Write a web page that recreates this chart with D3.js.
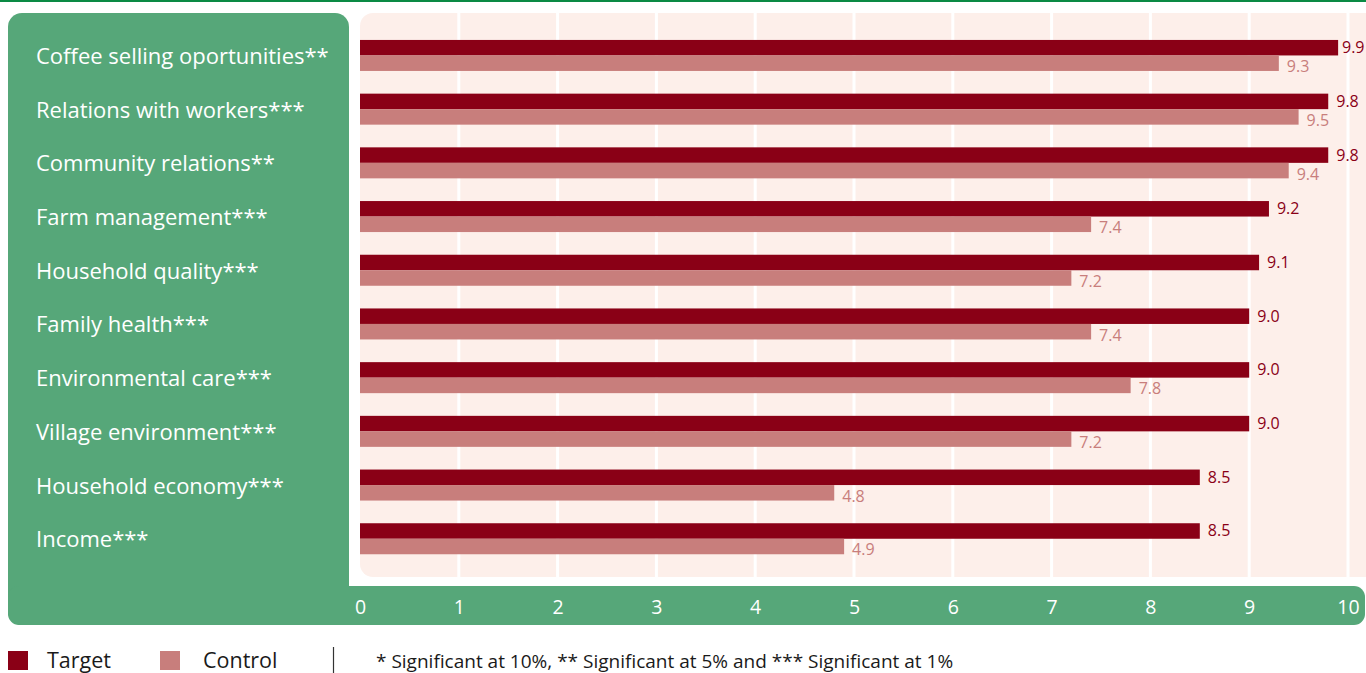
<!DOCTYPE html>
<html>
<head>
<meta charset="utf-8">
<script src="https://cdn.jsdelivr.net/npm/d3@7"></script>
<style>
  html, body { margin: 0; padding: 0; background: #ffffff; }
  svg { display: block; font-family: "Open Sans", "Noto Sans", sans-serif; }
</style>
</head>
<body>
<svg id="chart" width="1366" height="673"></svg>
<script>
// Indicator scores, Target vs Control
const categories = [
  "Coffee selling oportunities**",
  "Relations with workers***",
  "Community relations**",
  "Farm management***",
  "Household quality***",
  "Family health***",
  "Environmental care***",
  "Village environment***",
  "Household economy***",
  "Income***"
];
const targetValues  = [9.9, 9.8, 9.8, 9.2, 9.1, 9.0, 9.0, 9.0, 8.5, 8.5];
const controlValues = [9.3, 9.5, 9.4, 7.4, 7.2, 7.4, 7.8, 7.2, 4.8, 4.9];
const seriesNames = ["Target", "Control"];
const tickValues = [0, 1, 2, 3, 4, 5, 6, 7, 8, 9, 10];
const footnote = "* Significant at 10%, ** Significant at 5% and *** Significant at 1%";

const colors = { Target: "#8a0016", Control: "#c87e7c" };
const green = "#56a779";
const pink = "#fdefea";
const font = "'Open Sans', 'Noto Sans', sans-serif";

const svg = d3.select("#chart");

// top rule
svg.append("rect").attr("x", 0).attr("y", 0).attr("width", 1366).attr("height", 2).attr("fill", "#0a8a44");

// green label panel + axis strip
svg.append("rect").attr("x", 8).attr("y", 13).attr("width", 341).attr("height", 612).attr("rx", 14).attr("fill", green);
svg.append("rect").attr("x", 8).attr("y", 586).attr("width", 1357).attr("height", 39).attr("rx", 11).attr("fill", green);

// plot panel
svg.append("rect").attr("x", 360).attr("y", 13).attr("width", 1020).attr("height", 564).attr("rx", 13).attr("fill", pink);

const x = d3.scaleLinear().domain([0, 10]).range([360, 1348]);
const y = d3.scaleBand().domain(categories).range([28.6, 565.6]).padding(0);
const ySub = d3.scaleBand().domain(seriesNames).range([0, y.bandwidth()]).paddingInner(0).paddingOuter(0.732);

// white gridlines
svg.append("g").selectAll("line")
  .data(tickValues.filter(d => d > 0))
  .join("line")
  .attr("x1", d => x(d)).attr("x2", d => x(d))
  .attr("y1", 13).attr("y2", 577)
  .attr("stroke", "#ffffff").attr("stroke-width", 3);

const rows = categories.map((c, i) => ({ c, Target: targetValues[i], Control: controlValues[i] }));

const group = svg.append("g").selectAll("g")
  .data(rows)
  .join("g")
  .attr("transform", d => `translate(0,${y(d.c)})`);

seriesNames.forEach(s => {
  group.append("rect")
    .attr("x", x(0))
    .attr("y", ySub(s))
    .attr("width", d => x(d[s]) - x(0))
    .attr("height", ySub.bandwidth())
    .attr("fill", colors[s]);
  group.append("text")
    .attr("x", d => Math.min(x(d[s]) + 8, x(10) - 6))
    .attr("y", ySub(s) + ySub.bandwidth() / 2 + (s === "Control" ? 9 : 5.5))
    .attr("font-size", 16)
    .attr("fill", colors[s])
    .text(d => d[s].toFixed(1));
});

// category labels
svg.append("g").selectAll("text")
  .data(categories)
  .join("text")
  .attr("x", 36)
  .attr("y", d => y(d) + y.bandwidth() / 2 + 8.5)
  .attr("font-size", 22)
  .attr("fill", "#ffffff")
  .text(d => d);

// x axis
const axis = d3.axisBottom(x).tickValues(tickValues).tickSize(0).tickPadding(0).tickFormat(d3.format("d"));
const ax = svg.append("g").attr("transform", "translate(0,607)").call(axis);
ax.select(".domain").remove();
ax.selectAll("text")
  .attr("font-family", font)
  .attr("font-size", 19.5)
  .attr("fill", "#ffffff")
  .attr("dy", "0.36em")
  .attr("y", 0);

// legend
const legend = svg.append("g");
const legendPos = [{ s: "Target", x: 8, tx: 47 }, { s: "Control", x: 160, tx: 203 }];
legendPos.forEach(p => {
  legend.append("rect").attr("x", p.x).attr("y", 651).attr("width", 20).attr("height", 19).attr("fill", colors[p.s]);
  legend.append("text").attr("x", p.tx).attr("y", 667.5).attr("font-size", 21.5).attr("fill", "#1a1a1a").text(p.s);
});
legend.append("line").attr("x1", 333.5).attr("x2", 333.5).attr("y1", 647).attr("y2", 673).attr("stroke", "#333").attr("stroke-width", 1.2);
legend.append("text").attr("x", 376).attr("y", 667.5).attr("font-size", 19).attr("fill", "#1a1a1a").text(footnote);
</script>
</body>
</html>
